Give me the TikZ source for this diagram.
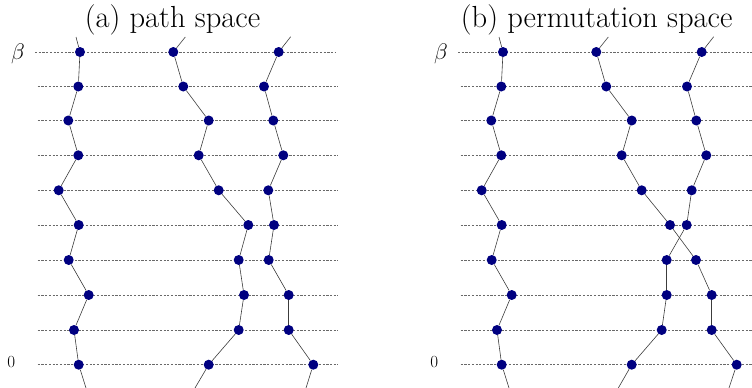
\documentclass[tikz,border=0pt]{standalone}
\usepackage{fontspec}
\definecolor{dotblue}{RGB}{0,0,128}
\definecolor{pathgray}{RGB}{60,60,60}
\definecolor{gridgray}{RGB}{105,105,105}
\begin{document}
\begin{tikzpicture}[x=1pt,y=-1pt,
  particle/.style={circle,fill=dotblue,draw=none,inner sep=0pt,minimum size=10pt},
  gridline/.style={draw=gridgray,line width=0.65pt,dash pattern=on 2.2pt off 1.5pt},
  pathline/.style={draw=pathgray,line width=0.6pt},
  lbl/.style={inner sep=0pt,font=\fontsize{17}{19}\selectfont},
  ttl/.style={inner sep=0pt,anchor=base,font=\fontsize{30.5}{34}\selectfont}]
\useasboundingbox (0,0) rectangle (752,388);
\clip (0,0) rectangle (752,388);
% grid lines
\foreach \dx in {0,423}{
  \draw[gridline] (35+\dx,52) -- (335+\dx,52);
  \foreach \y in {86.5,120.5,155.3,190.3,225,260,295,330,364.7}
    \draw[gridline] (37.7+\dx,\y) -- (337.7+\dx,\y);
}
% titles and labels
\node[ttl] (ta) at (172.5,27.5) {(a) path space};
\node[ttl] (tb) at (596.7,27.5) {(b) permutation space};
\node[lbl] (betaa) at (18,53.5) {\scalebox{1.3}{$\beta$}};
\node[lbl] (zeroa) at (11.2,362.5) {0};
\node[lbl] (betab) at (441,53.5) {\scalebox{1.3}{$\beta$}};
\node[lbl] (zerob) at (434.2,362.5) {0};
% particles, panel (a)
\foreach \x/\y [count=\i] in {80/52,78.3/86.5,68.3/120.5,78.3/155.3,58.7/190.3,78.7/225,68.7/260,88.7/295,74/330,78.7/364.7}
  \node[particle] (a1-\i) at (\x,\y) {};
\foreach \x/\y [count=\i] in {173.3/52,183.3/86.5,208.7/120.5,198.7/155.3,218.7/190.3,248.3/225,238.7/260,244/295,238.7/330,208.7/364.7}
  \node[particle] (a2-\i) at (\x,\y) {};
\foreach \x/\y [count=\i] in {278.7/52,264/86.5,273.3/120.5,283.3/155.3,268.3/190.3,274/225,268.7/260,288.7/295,288.7/330,313.3/364.7}
  \node[particle] (a3-\i) at (\x,\y) {};
% particles, panel (b)
\foreach \x/\y [count=\i] in {503/52,501.3/86.5,491.3/120.5,501.3/155.3,481.7/190.3,501.7/225,491.7/260,511.7/295,497/330,501.7/364.7}
  \node[particle] (b1-\i) at (\x,\y) {};
\foreach \x/\y [count=\i] in {596.3/52,606.3/86.5,631.7/120.5,621.7/155.3,641.7/190.3,670/225,696/260,711.7/295,711.7/330,736.7/364.7}
  \node[particle] (b2-\i) at (\x,\y) {};
\foreach \x/\y [count=\i] in {701.7/52,687/86.5,696.3/120.5,706.3/155.3,691.7/190.3,686.7/225,666.7/260,666.7/295,661.7/330,631.7/364.7}
  \node[particle] (b3-\i) at (\x,\y) {};
% free ends
\coordinate (a1-top) at (76,37);   \coordinate (a1-bot) at (86,388);
\coordinate (a2-top) at (185.3,37); \coordinate (a2-bot) at (195,388);
\coordinate (a3-top) at (290.7,36.7); \coordinate (a3-bot) at (306,388);
\coordinate (b1-top) at (499,37);  \coordinate (b1-bot) at (509,388);
\coordinate (b2-top) at (608.3,37); \coordinate (b2-bot) at (729,388);
\coordinate (b3-top) at (713.7,36.7); \coordinate (b3-bot) at (618.3,388);
% connectors
\foreach \p in {a1,a2,a3,b1,b2,b3}{
  \draw[pathline] (\p-top) -- (\p-1);
  \foreach \i [count=\j from 2] in {1,...,9}
    \draw[pathline] (\p-\i) -- (\p-\j);
  \draw[pathline] (\p-10) -- (\p-bot);
}
\end{tikzpicture}
\end{document}
